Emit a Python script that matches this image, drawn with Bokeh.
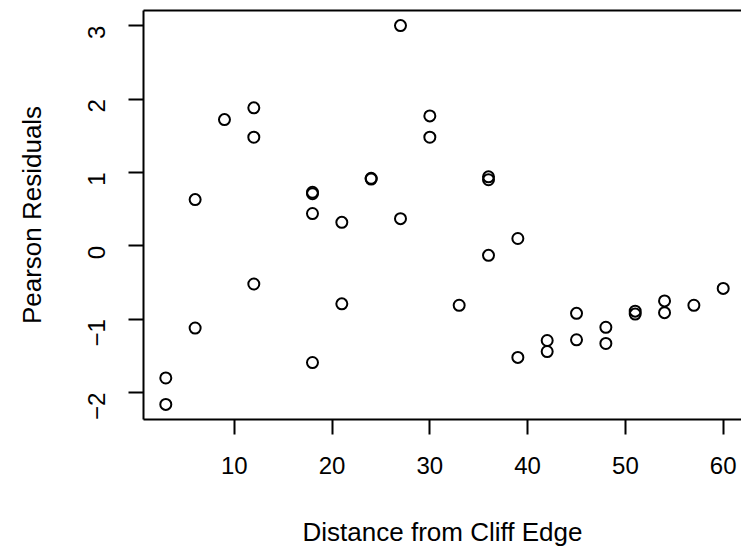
import math
from bokeh.plotting import figure
from bokeh.models import Range1d, FixedTicker, LinearAxis
from bokeh.embed import file_html
from bokeh.resources import INLINE

# Data
distance = [3, 3, 6, 6, 9, 12, 12, 12, 18, 18, 18, 18, 21, 21, 24, 24, 27, 27,
            30, 30, 33, 36, 36, 36, 39, 39, 42, 42, 45, 45, 48, 48, 51, 51,
            54, 54, 57, 60]
residuals = [-1.80, -2.16, 0.63, -1.12, 1.72, 1.88, 1.48, -0.52, 0.73, 0.71,
             0.44, -1.59, 0.32, -0.79, 0.92, 0.91, 3.00, 0.37, 1.77, 1.48,
             -0.81, 0.94, 0.90, -0.13, 0.10, -1.52, -1.29, -1.44, -0.92, -1.28,
             -1.11, -1.33, -0.89, -0.93, -0.75, -0.91, -0.81, -0.58]

x_ticks = [10, 20, 30, 40, 50, 60]
y_ticks = [-2, -1, 0, 1, 2, 3]
y_tick_labels = {-2: "\u22122", -1: "\u22121", 0: "0", 1: "1", 2: "2", 3: "3"}

FONT = "Liberation Sans"

p = figure(width=741, height=556, output_backend="svg", toolbar_location=None,
           x_range=Range1d(0.72, 61.87), y_range=Range1d(-2.366, 3.206),
           min_border_left=143, min_border_right=0, min_border_top=10,
           min_border_bottom=137,
           x_axis_label="Distance from Cliff Edge", y_axis_label="Pearson Residuals")

p.grid.visible = False
p.background_fill_color = "white"
p.border_fill_color = "white"
p.outline_line_color = None

p.scatter(distance, residuals, marker="circle", size=11, fill_color=None,
          line_color="black", line_width=2)

p.xaxis.ticker = FixedTicker(ticks=x_ticks)
p.yaxis.ticker = FixedTicker(ticks=y_ticks)
p.yaxis.major_label_overrides = y_tick_labels
p.yaxis.major_label_orientation = math.pi / 2

for ax in (p.xaxis, p.yaxis):
    ax.minor_tick_line_color = None
    ax.major_tick_out = 15
    ax.major_tick_in = 0
    ax.major_tick_line_width = 2
    ax.major_tick_line_color = "black"
    ax.axis_line_color = "black"
    ax.axis_line_width = 2
    ax.major_label_text_font = FONT
    ax.major_label_text_font_size = "24px"
    ax.major_label_text_color = "black"
    ax.axis_label_text_font = FONT
    ax.axis_label_text_font_size = "26px"
    ax.axis_label_text_font_style = "normal"
    ax.axis_label_text_color = "black"

p.xaxis.major_label_standoff = 22
p.xaxis.axis_label_standoff = 40
p.yaxis.major_label_standoff = 32
p.yaxis.axis_label_standoff = 30

# top edge of the plot box (the right edge falls outside the picture)
top_axis = LinearAxis(ticker=FixedTicker(ticks=[]), axis_line_color="black",
                      axis_line_width=2, major_tick_out=0, major_tick_in=0,
                      minor_tick_out=0, minor_tick_in=0,
                      major_label_text_font_size="0px", major_label_standoff=0)
p.add_layout(top_axis, "above")

open("out.html", "w").write(file_html(p, INLINE))
